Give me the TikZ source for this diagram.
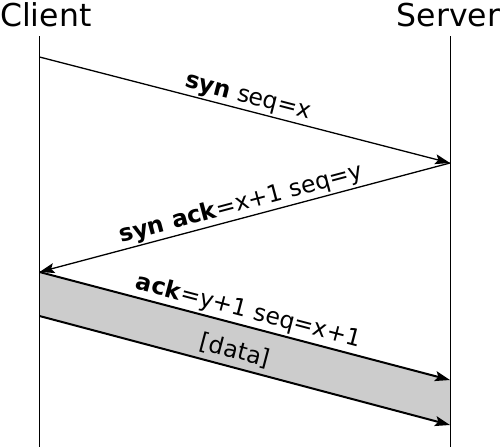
\documentclass[tikz,border=0pt]{standalone}
\usepackage{fontspec}
\setmainfont{DejaVu Sans}
\usetikzlibrary{arrows.meta}
\begin{document}
\begin{tikzpicture}[x=1pt,y=-1pt,
  life/.style={line width=1pt},
  msg/.style={line width=1.3pt,-{Stealth[length=15pt,width=10pt,inset=3pt]}},
  datamsg/.style={line width=2pt,-{Stealth[length=15pt,width=10pt,inset=3pt]}},
  hdr/.style={font=\fontsize{31.5}{32}\selectfont,inner sep=0pt,anchor=base},
  lbl/.style={font=\fontsize{23.5}{25}\selectfont,sloped,inner sep=1.5pt}]
\useasboundingbox (0,0) rectangle (500,447);
\node[hdr,anchor=base west] (client) at (0,26) {Client};
\node[hdr] (server) at (448.5,26) {Server};
\coordinate (ctop) at (39.5,36);
\coordinate (cbot) at (39.5,447);
\coordinate (stop) at (450,36);
\coordinate (sbot) at (450,447);
\coordinate (c1) at (39.5,57);
\coordinate (s1) at (450,163);
\coordinate (c2) at (39.5,272);
\coordinate (s2) at (450,380);
\coordinate (c3) at (39.5,316);
\coordinate (s3) at (450,425);
\fill[gray!40] (c2) -- (s2) -- (s3) -- (c3) -- cycle;
\draw[life] (ctop) -- (cbot);
\draw[life] (stop) -- (sbot);
\draw[msg] (c1) -- node[lbl,above] (l1) {\textbf{syn} seq=x} (s1);
\draw[msg] (s1) -- node[lbl,above] (l2) {\textbf{syn ack}=x+1 seq=y} (c2);
\draw[datamsg] (c2) -- node[lbl,above,yshift=1pt] (l3) {\textbf{ack}=y+1 seq=x+1} (s2);
\draw[datamsg] (c3) -- (s3);
\path (c2) -- (c3) coordinate[midway] (dl);
\path (s2) -- (s3) coordinate[midway] (dr);
\path (dl) -- node[lbl,pos=0.48,yshift=-5pt] (l4) {[data]} (dr);
\end{tikzpicture}
\end{document}
